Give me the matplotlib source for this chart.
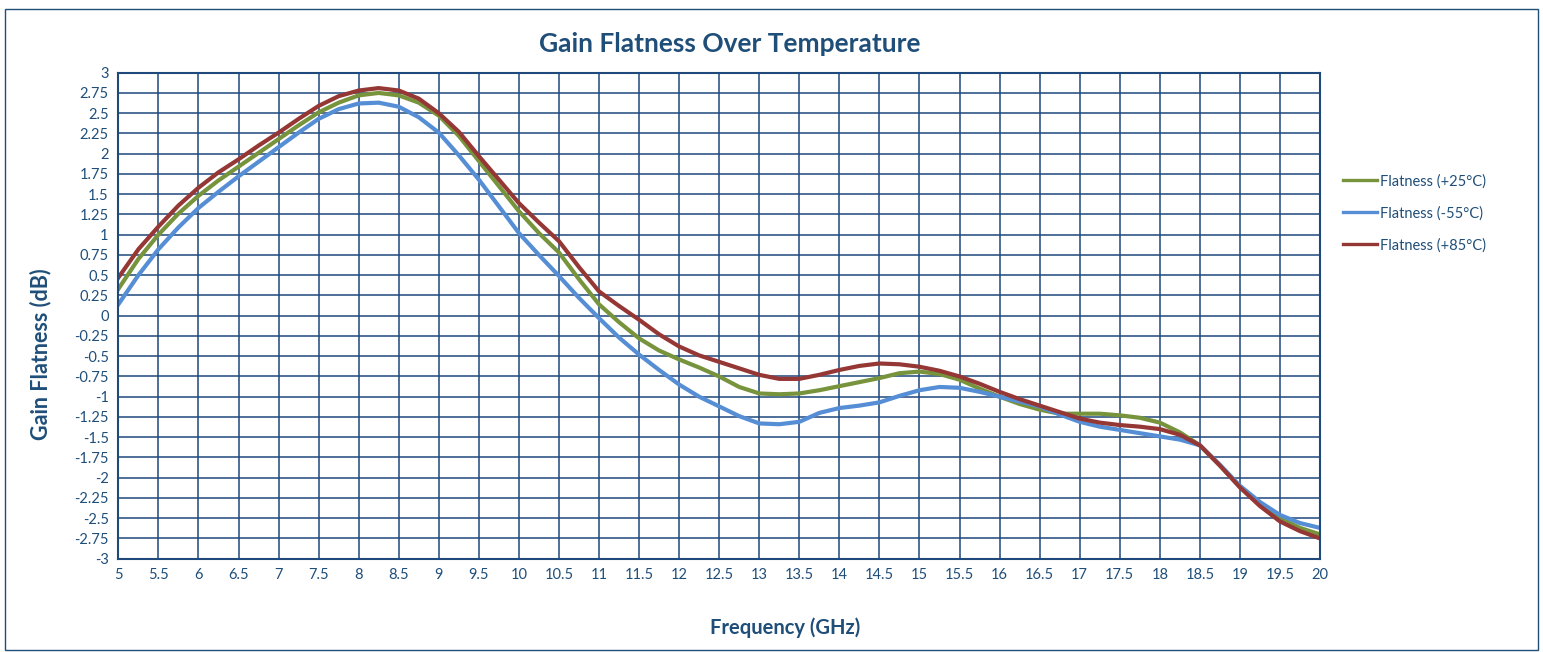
import numpy as np
import matplotlib.pyplot as plt
from matplotlib.patches import Rectangle
from matplotlib.lines import Line2D

plt.rcParams['font.family'] = ['Lato', 'DejaVu Sans']

# frequency sweep (GHz)
freq = [5.0, 5.25, 5.5, 5.75, 6.0, 6.25, 6.5, 6.75, 7.0, 7.25, 7.5, 7.75,
        8.0, 8.25, 8.5, 8.75, 9.0, 9.25, 9.5, 9.75, 10.0, 10.25, 10.5, 10.75,
        11.0, 11.25, 11.5, 11.75, 12.0, 12.25, 12.5, 12.75, 13.0, 13.25, 13.5,
        13.75, 14.0, 14.25, 14.5, 14.75, 15.0, 15.25, 15.5, 15.75, 16.0, 16.25,
        16.5, 16.75, 17.0, 17.25, 17.5, 17.75, 18.0, 18.25, 18.5, 18.75, 19.0,
        19.25, 19.5, 19.75, 20.0]

flat_25 = [0.33, 0.70, 1.00, 1.26, 1.48, 1.67, 1.84, 2.01, 2.18, 2.35, 2.51, 2.63,
           2.72, 2.75, 2.72, 2.63, 2.47, 2.22, 1.91, 1.60, 1.29, 1.02, 0.78, 0.45,
           0.14, -0.08, -0.28, -0.43, -0.54, -0.64, -0.75, -0.88, -0.96, -0.97, -0.96,
           -0.92, -0.87, -0.82, -0.77, -0.71, -0.69, -0.72, -0.79, -0.90, -1.00, -1.09,
           -1.16, -1.21, -1.21, -1.21, -1.23, -1.26, -1.32, -1.44, -1.60, -1.85, -2.11,
           -2.32, -2.50, -2.62, -2.70]

flat_m55 = [0.14, 0.50, 0.82, 1.09, 1.33, 1.53, 1.72, 1.90, 2.08, 2.26, 2.43, 2.55,
            2.62, 2.63, 2.58, 2.45, 2.26, 1.98, 1.68, 1.35, 1.02, 0.75, 0.49, 0.22,
            -0.03, -0.27, -0.48, -0.67, -0.85, -1.00, -1.12, -1.24, -1.33, -1.34, -1.31,
            -1.20, -1.14, -1.11, -1.07, -0.99, -0.92, -0.88, -0.89, -0.94, -1.00, -1.06,
            -1.12, -1.22, -1.31, -1.37, -1.41, -1.45, -1.49, -1.53, -1.60, -1.84, -2.10,
            -2.30, -2.46, -2.56, -2.62]

flat_85 = [0.47, 0.82, 1.10, 1.36, 1.58, 1.77, 1.93, 2.10, 2.26, 2.43, 2.59, 2.71,
           2.78, 2.81, 2.78, 2.68, 2.50, 2.27, 1.97, 1.68, 1.39, 1.15, 0.92, 0.60,
           0.30, 0.12, -0.05, -0.23, -0.38, -0.49, -0.57, -0.65, -0.73, -0.78, -0.78,
           -0.73, -0.67, -0.62, -0.59, -0.60, -0.63, -0.68, -0.75, -0.84, -0.94, -1.03,
           -1.11, -1.19, -1.27, -1.32, -1.35, -1.37, -1.40, -1.47, -1.60, -1.85, -2.12,
           -2.35, -2.54, -2.66, -2.75]

series_names = ['Flatness (+25°C)', 'Flatness (-55°C)', 'Flatness (+85°C)']
series_colors = ['#77933C', '#558ED5', '#953735']

txt = '#1F4E79'
grid_c = '#1F497D'

fig = plt.figure(figsize=(15.43, 6.52), dpi=100)
ax = fig.add_axes([0.0767, 0.1431, 0.7788, 0.7454])

for vals, name, col in zip([flat_25, flat_m55, flat_85], series_names, series_colors):
    ax.plot(freq, vals, color=col, lw=3.0, label=name, solid_joinstyle='round')

ax.set_xlim(5, 20)
ax.set_ylim(-3, 3)
ax.set_xticks(np.arange(5, 20.01, 0.5))
ax.set_xticklabels(['%g' % v for v in np.arange(5, 20.01, 0.5)])
ax.set_yticks(np.arange(-3, 3.01, 0.25))
ax.set_yticklabels(['%g' % v for v in np.arange(-3, 3.01, 0.25)])
ax.grid(True, color=grid_c, lw=1.3, alpha=0.85)
ax.set_axisbelow(True)
ax.tick_params(length=0, labelsize=10.5, colors=txt, pad=7)
for s in ax.spines.values():
    s.set_color(grid_c)
    s.set_linewidth(1.5)

# axis titles and chart title placed in figure coordinates
fig.text(0.509, 0.038, 'Frequency (GHz)', ha='center', va='center',
         fontsize=14.5, fontweight='bold', color=txt)
fig.text(0.026, 0.457, 'Gain Flatness (dB)', ha='center', va='center', rotation=90,
         fontsize=15.5, fontweight='bold', color=txt)
fig.text(0.473, 0.932, 'Gain Flatness Over Temperature', ha='center', va='center',
         fontsize=19, fontweight='bold', color=txt)

handles = [Line2D([], [], color=c, lw=2.4) for c in series_colors]
fig.legend(handles, series_names, loc='center left', bbox_to_anchor=(0.862, 0.673),
           frameon=False, fontsize=10.5, handlelength=2.3, handletextpad=0.25,
           labelspacing=1.2, labelcolor=txt)

fig.patches.append(Rectangle((0.003, 0.003), 0.994, 0.983, transform=fig.transFigure,
                             fill=False, edgecolor='#1F4E79', lw=1.0))

fig.savefig('out.png', dpi=100)
